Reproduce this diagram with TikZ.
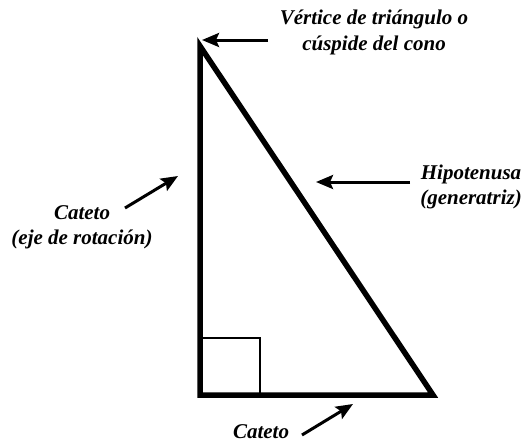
\documentclass[tikz,border=0pt]{standalone}
\usepackage{fontspec}
\setmainfont{Liberation Serif}
\usepackage{tikz}
\usetikzlibrary{arrows.meta}
\tikzstyle{arrow} = [line width=3pt,->,>={Stealth[length=17pt,width=14pt,inset=3pt]}]
\tikzstyle{side} = [line width=5.5pt,line join=miter]
\tikzstyle{lbl} = [font=\fontsize{21}{25}\selectfont\bfseries\itshape, align=center, inner sep=0pt]

\begin{document}
\begin{tikzpicture}[x=1pt,y=-1pt]
    \useasboundingbox (0,0) rectangle (524,445);
    \coordinate (top) at (200,46);
    \coordinate (left) at (200,395);
    \coordinate (right) at (433,395);

    % Triangle
    \draw[side] (top) -- (left) -- (right) -- cycle;
    \draw[line width=1.3pt] (200,338) -| (260,395);

    % Labels
    \node[lbl] (vertex) at (374,32) {Vértice de triángulo o\\[1pt]cúspide del cono};
    \node[lbl] (hyp) at (471,187) {Hipotenusa\\(generatriz)};
    \node[lbl] (axis) at (82,227) {Cateto\\(eje de rotación)};
    \node[lbl] (base) at (261,432) {Cateto};

    % Arrows
    \coordinate (vertexfrom) at (268,40);
    \coordinate (vertexto) at (202,40);
    \coordinate (hypfrom) at (410,182);
    \coordinate (hypto) at (316,182);
    \coordinate (axisfrom) at (125,208);
    \coordinate (axisto) at (178,176);
    \coordinate (basefrom) at (302,435);
    \coordinate (baseto) at (353,404);
    \draw[arrow] (vertexfrom) -- (vertexto);
    \draw[arrow] (hypfrom) -- (hypto);
    \draw[arrow] (axisfrom) -- (axisto);
    \draw[arrow] (basefrom) -- (baseto);
\end{tikzpicture}
\end{document}
